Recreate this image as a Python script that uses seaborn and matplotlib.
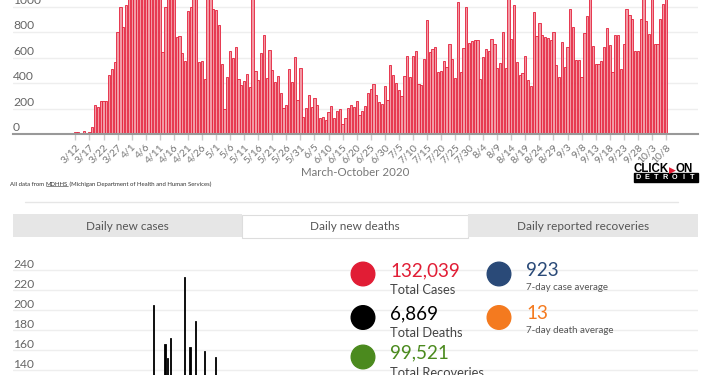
import pandas as pd
import matplotlib.pyplot as plt
import seaborn as sns
from matplotlib.patches import Rectangle, Circle

# daily new cases, 3/10 .. 10/8 (values above ~1050 are cut off in the screenshot)
days = pd.date_range('2020-03-10', '2020-10-08')
dates = [f'{d.month}/{d.day}' for d in days]
cases = [5, 2, 13, 16, 8, 21, 3, 13, 57, 228, 214, 262, 262, 262, 466, 508, 565, 798, 994, 837, 1013,
         1110, 1450, 1720, 1950, 1460, 1490, 1550, 1440, 1380, 1650, 1460, 1210,
         646, 1000, 1200, 1150, 1080, 759, 772, 633, 576, 968,
         1000, 1160, 1080, 565, 576, 432, 1300, 1120, 979, 974,
         855, 550, 196, 445, 654, 594, 680, 432, 385, 416,
         468, 366, 1190, 497, 424, 638, 775, 437, 659, 502,
         406, 455, 319, 207, 228, 508, 408, 607, 267, 515,
         136, 201, 306, 209, 285, 228, 123, 131, 110, 170,
         220, 128, 183, 194, 76, 128, 201, 228, 214, 256,
         149, 180, 222, 324, 353, 392, 306, 254, 235, 377,
         267, 542, 463, 403, 345, 298, 455, 612, 445, 612,
         654, 390, 385, 586, 893, 646, 664, 680, 484, 495,
         576, 523, 704, 588, 437, 1040, 489, 672, 994, 717,
         732, 738, 738, 429, 602, 664, 654, 745, 704, 515,
         560, 798, 515, 1100, 746, 1015, 568, 463, 481, 615,
         424, 377, 955, 772, 869, 780, 761, 756, 738, 798,
         539, 450, 720, 526, 686, 984, 840, 581, 581, 445,
         790, 929, 1120, 693, 550, 550, 576, 680, 829, 698,
         487, 775, 775, 508, 706, 984, 934, 900, 654, 654,
         900, 1100, 890, 785, 1200, 706, 706, 903, 1018, 1100]
tick_dates = dates[2::5]

# daily new deaths (only the part visible in the screenshot)
death_dates = ['4/9', '4/13', '4/14', '4/15', '4/20', '4/22', '4/24', '4/27', '5/1']
deaths = [205, 166, 152, 172, 233, 163, 189, 159, 153]

tabs = ['Daily new cases', 'Daily new deaths', 'Daily reported recoveries']
stat_values = ['132,039', '6,869', '99,521', '923', '13']
stat_labels = ['Total Cases', 'Total Deaths', 'Total Recoveries', '7-day case average', '7-day death average']
stat_colors = ['#e11d35', '#000000', '#4b8a1e', '#2a4a78', '#f47a1f']

sns.set_style('white')
plt.rcParams['font.family'] = ['Lato', 'DejaVu Sans']

fig = plt.figure(figsize=(7.1, 3.75), dpi=100)
W, H = 710, 375

# ---- top chart: daily new cases
ax1 = fig.add_axes([13 / W, 1 - 134 / H, 685 / W, 134 / H])
for v in range(200, 1001, 200):
    ax1.axhline(v, color='#eeeeee', lw=1, zorder=0)
sns.barplot(x=dates, y=cases, ax=ax1, color='#f29aa5', edgecolor='#e41f3a',
            linewidth=0.6, width=0.8, saturation=1, errorbar=None, zorder=2)
ax1.set_xlim(-20.2, 223.4)
ax1.set_ylim(0, 1052)
ax1.set_yticks([])
ax1.set_xticks([dates.index(t) for t in tick_dates])
ax1.set_xticklabels(tick_dates, rotation=45, ha='right', rotation_mode='anchor')
ax1.tick_params(axis='x', bottom=True, length=4, width=1, color='#cccccc', pad=2,
                labelsize=7.5, labelcolor='#777777')
for s in ['top', 'left', 'right']:
    ax1.spines[s].set_visible(False)
ax1.spines['bottom'].set_color('#999999')
ax1.spines['bottom'].set_linewidth(1.5)
ax1.set_xlabel('')
for v in range(0, 1001, 200):
    ax1.annotate(str(v), xy=(0, v), xycoords=('axes fraction', 'data'), xytext=(0, 3),
                 textcoords='offset pixels', ha='left', va='baseline', fontsize=8.7, color='#666666')

# ---- bottom chart: daily new deaths (cut off)
ax2 = fig.add_axes([13 / W, 0, 685 / W, (H - 255) / H])
for v in range(140, 241, 20):
    ax2.axhline(v, color='#eeeeee', lw=1, zorder=0)
sns.barplot(x=[dates.index(d) for d in death_dates], y=deaths, ax=ax2, native_scale=True,
            color='black', edgecolor='black', linewidth=0.6, width=0.5, saturation=1,
            errorbar=None, zorder=2)
ax2.set_xlim(-20.0, 223.6)
ax2.set_ylim(135, 255)
ax2.axis('off')
for v in range(140, 241, 20):
    ax2.annotate(str(v), xy=(0, v), xycoords=('axes fraction', 'data'), xytext=(0, 2.5),
                 textcoords='offset pixels', ha='left', va='baseline', fontsize=8.7, color='#666666')

# ---- overlay in pixel coordinates
axo = fig.add_axes([0, 0, 1, 1], zorder=5)
axo.set_xlim(0, W)
axo.set_ylim(H, 0)
axo.axis('off')
axo.patch.set_alpha(0)

axo.text(355.5, 172.5, 'March-October 2020', ha='center', va='center', fontsize=8.3, color='#777777')

t1 = axo.text(10, 187, 'All data from ', ha='left', va='bottom', fontsize=4.3, color='#333333')
t2 = axo.annotate('MDHHS', xy=(1, 0), xycoords=t1, ha='left', va='bottom', fontsize=4.3, color='#333333')
axo.annotate(' (Michigan Department of Health and Human Services)', xy=(1, 0), xycoords=t2,
             ha='left', va='bottom', fontsize=4.3, color='#333333')

# logo
l1 = axo.text(634, 172, 'CLICK', ha='left', va='baseline', fontsize=8.3, fontweight='bold',
              family='Liberation Sans', color='black')
l2 = axo.annotate('\u25b6', xy=(1, 0), xycoords=l1, ha='left', va='bottom', fontsize=6.5,
                  family='DejaVu Sans', color='#e11d35')
axo.annotate('ON', xy=(1, 0), xycoords=l2, ha='left', va='bottom', fontsize=8.3, fontweight='bold',
             family='Liberation Sans', color='black')
axo.add_patch(Rectangle((634, 173), 64, 8.5, color='black'))
for k, ch in enumerate('DETROIT'):
    axo.text(638 + k * 9.1, 177.5, ch, ha='center', va='center', fontsize=5.2, fontweight='bold',
             family='Liberation Sans', color='white')

axo.plot([25, 678], [202, 202], color='#e6e6e6', lw=1)

# tabs
tab_x = [13, 242, 468, 698]
for k, name in enumerate(tabs):
    active = k == 1
    axo.add_patch(Rectangle((tab_x[k], 214.5 if active else 214), tab_x[k + 1] - tab_x[k], 23,
                            facecolor='white' if active else '#e6e6e6',
                            edgecolor='#dddddd' if active else 'none', lw=0.8))
    axo.text((tab_x[k] + tab_x[k + 1]) / 2, 226, name, ha='center', va='center',
             fontsize=8.5, color='#555555')

# summary figures
circ_pos = [(363, 274), (363, 317.5), (363, 357), (499, 274), (499, 317.5)]
value_base = [276, 319, 358, 276, 319]
label_base = [294, 337, 377, 290, 333]
for k in range(5):
    cx, cy = circ_pos[k]
    axo.add_patch(Circle((cx, cy), 11.8, color=stat_colors[k]))
    tx = 390 if k < 3 else 526
    axo.text(tx, value_base[k], stat_values[k], ha='left', va='baseline', fontsize=13.6,
             color=stat_colors[k])
    axo.text(tx, label_base[k], stat_labels[k], ha='left', va='baseline',
             fontsize=9.3 if k < 3 else 7, color='#444444' if k < 3 else '#555555')

# underline MDHHS
fig.canvas.draw()
bb = t2.get_window_extent(fig.canvas.get_renderer())
axo.plot([bb.x0, bb.x1], [H - bb.y0 - 1.2, H - bb.y0 - 1.2], color='#333333', lw=0.4)

fig.savefig('out.png', dpi=100)
